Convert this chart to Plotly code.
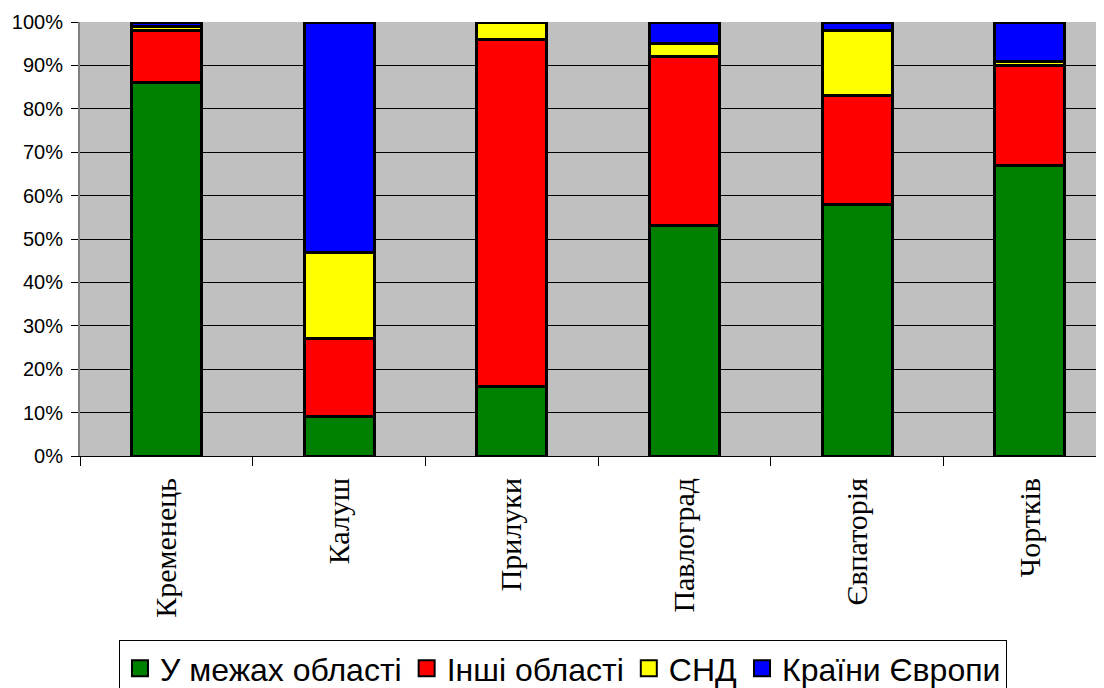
import plotly.graph_objects as go

cities = ["Кременець", "Калуш", "Прилуки", "Павлоград", "Євпаторія", "Чортків"]
series_names = ["У межах області", "Інші області", "СНД", "Країни Європи"]
v_region = [86, 9, 16, 53, 58, 67]
v_other = [12, 18, 80, 39, 25, 23]
v_cis = [1, 20, 4, 3, 15, 1]
v_europe = [1, 53, 0, 5, 2, 9]
colors = ["#008000", "#FF0000", "#FFFF00", "#0000FF"]
y_ticks = [0, 10, 20, 30, 40, 50, 60, 70, 80, 90, 100]
y_labels = [f"{t}%" for t in y_ticks]

fig = go.Figure()
for name, vals, col in zip(series_names, [v_region, v_other, v_cis, v_europe], colors):
    fig.add_trace(go.Bar(
        x=cities, y=vals, name=name, showlegend=False,
        marker=dict(color=col, line=dict(color="black", width=3)),
        width=0.405,
    ))
# legend entries with larger square swatches
for name, col in zip(series_names, colors):
    fig.add_trace(go.Scatter(
        x=[None], y=[None], mode="markers", name=name,
        marker=dict(symbol="square", size=16, color=col, line=dict(color="black", width=2)),
    ))

fig.update_layout(
    barmode="stack",
    width=1104, height=700,
    margin=dict(l=72, r=0, t=14, b=252, autoexpand=False),
    paper_bgcolor="white",
    plot_bgcolor="#C0C0C0",
    showlegend=True,
    legend=dict(
        orientation="h", x=0.468, xanchor="center", y=-0.424, yanchor="top",
        font=dict(family="Liberation Sans, Arial", size=32, color="black"),
        bordercolor="black", borderwidth=1, bgcolor="white",
        traceorder="normal", itemsizing="trace",
    ),
)
fig.update_xaxes(
    type="category",
    range=[-0.5, 5.476],
    tickson="boundaries",
    ticks="outside", ticklen=9, tickcolor="black", tickwidth=1,
    tickangle=-90,
    ticklabelstandoff=9,
    automargin=False,
    tickfont=dict(family="Liberation Serif, Times New Roman", size=30, color="black"),
    showline=True, linecolor="black", linewidth=1,
    showgrid=False,
)
fig.update_yaxes(
    range=[0, 100],
    tickvals=y_ticks, ticktext=y_labels,
    ticks="outside", ticklen=7, tickcolor="black",
    ticklabelstandoff=4,
    automargin=False,
    tickfont=dict(family="Liberation Sans, Arial", size=20, color="black"),
    showline=True, linecolor="#808080", linewidth=2,
    showgrid=True, gridcolor="black", gridwidth=1,
    zeroline=False,
)
fig.write_html("out.html")
